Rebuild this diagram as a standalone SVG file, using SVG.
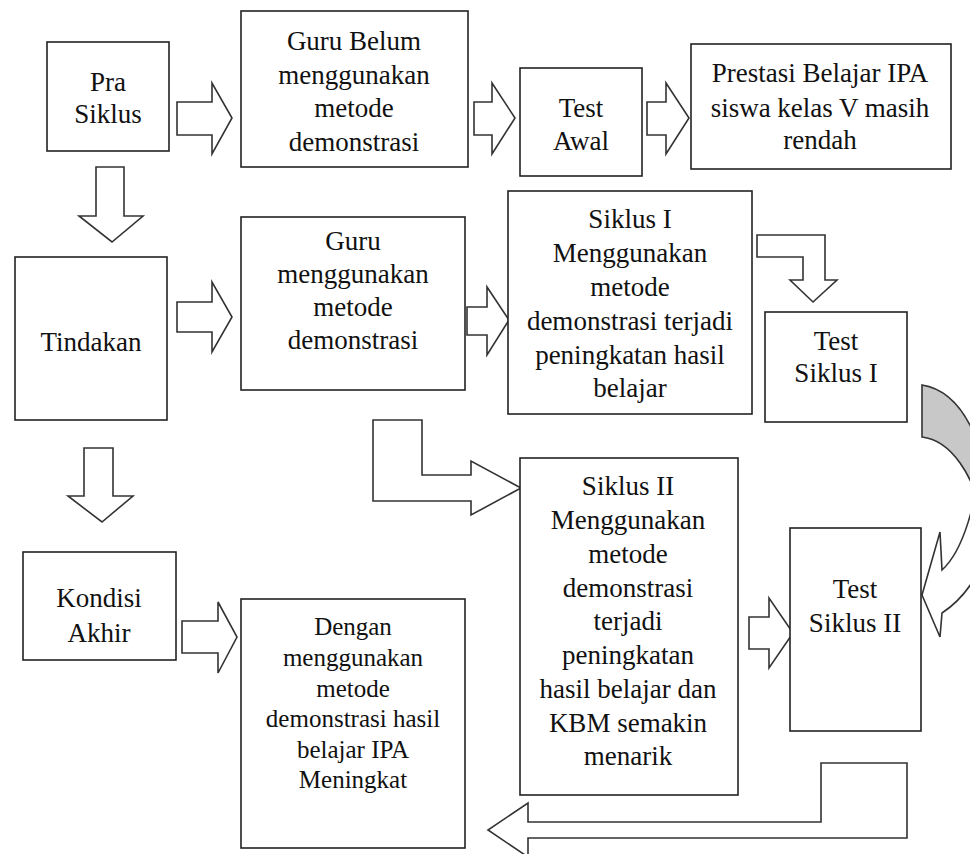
<svg xmlns="http://www.w3.org/2000/svg" width="970" height="854" viewBox="0 0 970 854">
<style>
.box{fill:#fff;stroke:#222;stroke-width:1.6}
.arr{fill:#fff;stroke:#333;stroke-width:1.6;stroke-linejoin:miter}
.t{font-family:"Liberation Serif","Times New Roman",serif;font-size:27px;fill:#111;text-anchor:middle}
.s{font-size:25px}
</style>
<rect width="970" height="854" fill="#fff"/>
<g id="connectors">
<path class="arr" d="M177,102 H212 V83 L232,118 L212,154 V135 H177 Z"/>
<path class="arr" d="M474,102 H492 V83 L515,118 L492,154 V135 H474 Z"/>
<path class="arr" d="M647,102 H666 V83 L689,118 L666,154 V135 H647 Z"/>
<path class="arr" d="M96,167 H124 V216 H143 L112,242 L79,216 H96 Z"/>
<path class="arr" d="M177,302 H212 V282 L232,317 L212,352 V332 H177 Z"/>
<path class="arr" d="M467,307 H487 V287 L509,320 L487,355 V335 H467 Z"/>
<path class="arr" d="M757,235 H825 V280 H837 L813,302 L790,280 H803 V257 H757 Z"/>
<path class="arr" d="M373,420 H422 V475 H471 V461 L521,488 L471,515 V501 H373 Z"/>
<path class="arr" d="M84,448 H113 V496 H133 L102,522 L68,496 H84 Z"/>
<path class="arr" d="M182,621 H218 V602 L237,637 L218,673 V653 H182 Z"/>
<path class="arr" d="M749,617 H769 V598 L793,633 L769,668 V649 H749 Z"/>
<path class="arr" d="M907,763 V838 H528 V857 L488,830 L528,803 V822 H821 V763 Z"/>
<path fill="#fff" stroke="#333" stroke-width="1.6" d="M982,440 C978,505 962,552 942,570 L940,532 L922,595 L940,637 L942,613 C962,600 978,580 990,545 Z"/>
<path fill="#c8c8c8" stroke="#333" stroke-width="1.6" d="M922,385 C948,389 968,410 982,455 L982,520 C975,475 950,440 922,437 Z"/>
</g>
<g id="pra"><rect class="box" x="47" y="42" width="122" height="109"/>
<text class="t" x="108" y="91">Pra</text><text class="t" x="108" y="123">Siklus</text></g>
<g id="guru-belum"><rect class="box" x="241" y="11" width="227" height="156"/>
<text class="t" x="354" y="50">Guru Belum</text><text class="t" x="354" y="84">menggunakan</text><text class="t" x="354" y="117">metode</text><text class="t" x="354" y="151">demonstrasi</text></g>
<g id="test-awal"><rect class="box" x="520" y="68" width="122" height="108"/>
<text class="t" x="581" y="117">Test</text><text class="t" x="581" y="150">Awal</text></g>
<g id="prestasi"><rect class="box" x="691" y="44" width="260" height="125"/>
<text class="t" x="820" y="82">Prestasi Belajar IPA</text><text class="t" x="820" y="117">siswa kelas V masih</text><text class="t" x="820" y="149">rendah</text></g>
<g id="tindakan"><rect class="box" x="15" y="257" width="152" height="163"/>
<text class="t" x="91" y="351">Tindakan</text></g>
<g id="guru-menggunakan"><rect class="box" x="241" y="217" width="224" height="173"/>
<text class="t" x="353" y="250">Guru</text><text class="t" x="353" y="283">menggunakan</text><text class="t" x="353" y="316">metode</text><text class="t" x="353" y="349">demonstrasi</text></g>
<g id="siklus1"><rect class="box" x="508" y="191" width="244" height="223"/>
<text class="t" x="630" y="228">Siklus I</text><text class="t" x="630" y="262">Menggunakan</text><text class="t" x="630" y="296">metode</text><text class="t" x="630" y="330">demonstrasi terjadi</text><text class="t" x="630" y="364">peningkatan hasil</text><text class="t" x="630" y="397">belajar</text></g>
<g id="test-siklus1"><rect class="box" x="765" y="312" width="142" height="110"/>
<text class="t" x="836" y="350">Test</text><text class="t" x="836" y="382">Siklus I</text></g>
<g id="siklus2"><rect class="box" x="520" y="458" width="218" height="337"/>
<text class="t" x="628" y="495">Siklus II</text><text class="t" x="628" y="529">Menggunakan</text><text class="t" x="628" y="563">metode</text><text class="t" x="628" y="597">demonstrasi</text><text class="t" x="628" y="630">terjadi</text><text class="t" x="628" y="664">peningkatan</text><text class="t" x="628" y="698">hasil belajar dan</text><text class="t" x="628" y="732">KBM semakin</text><text class="t" x="628" y="765">menarik</text></g>
<g id="test-siklus2"><rect class="box" x="790" y="528" width="131" height="203"/>
<text class="t" x="855" y="598">Test</text><text class="t" x="855" y="632">Siklus II</text></g>
<g id="kondisi"><rect class="box" x="23" y="552" width="153" height="108"/>
<text class="t" x="99" y="607">Kondisi</text><text class="t" x="99" y="642">Akhir</text></g>
<g id="dengan"><rect class="box" x="241" y="599" width="224" height="249"/>
<text class="t s" x="353" y="635">Dengan</text><text class="t s" x="353" y="666">menggunakan</text><text class="t s" x="353" y="697">metode</text><text class="t s" x="353" y="727">demonstrasi hasil</text><text class="t s" x="353" y="758">belajar IPA</text><text class="t s" x="353" y="788">Meningkat</text></g>
</svg>
